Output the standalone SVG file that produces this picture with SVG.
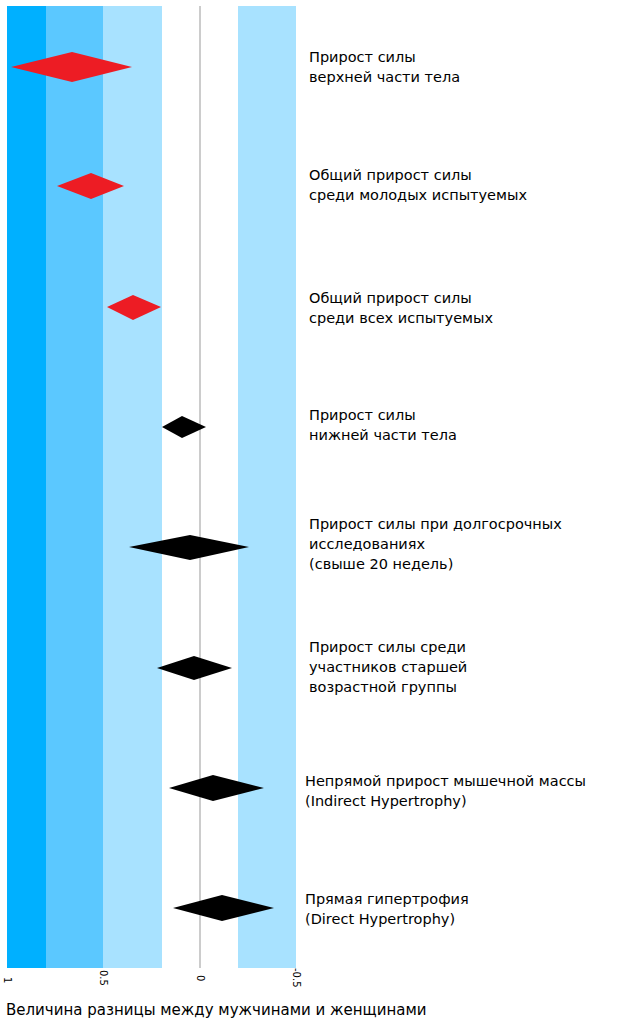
<svg xmlns="http://www.w3.org/2000/svg" width="622" height="1024" viewBox="0 0 622 1024">
<style>
text{font-family:"DejaVu Sans","Noto Sans",sans-serif;fill:#000}
.lbl{font-size:14.5px}
.ax{font-size:10px;fill:#888}
.red{fill:#ed1c24}.blk{fill:#000}
</style>
<rect width="622" height="1024" fill="#fff"/>
<g id="bands">
<rect x="7" y="6" width="39" height="962" fill="#00b0ff"/>
<rect x="46" y="6" width="57" height="962" fill="#5bc8ff"/>
<rect x="103" y="6" width="59" height="962" fill="#a8e2ff"/>
<rect x="238" y="6" width="58" height="962" fill="#a8e2ff"/>
<line x1="200" y1="6" x2="200" y2="968" stroke="#999" stroke-width="1"/>
</g>
<g id="axis" class="ax">
<text transform="translate(4,977) rotate(90)">1</text>
<text transform="translate(100,970) rotate(90)">0.5</text>
<text transform="translate(197,975) rotate(90)">0</text>
<text transform="translate(293,968) rotate(90)">-0.5</text>
</g>
<g id="n1"><polygon class="red" points="11,67 72,52 132,67 72,82"/><text class="lbl" x="309" y="62">Прирост силы</text><text class="lbl" x="309" y="82">верхней части тела</text></g>
<g id="n2"><polygon class="red" points="57,186 91,173 124,186 91,199"/><text class="lbl" x="309" y="180">Общий прирост силы</text><text class="lbl" x="309" y="200">среди молодых испытуемых</text></g>
<g id="n3"><polygon class="red" points="107,307 133,295 161,307 133,320"/><text class="lbl" x="309" y="303">Общий прирост силы</text><text class="lbl" x="309" y="323">среди всех испытуемых</text></g>
<g id="n4"><polygon class="blk" points="162,427 182,416 206,427 182,438"/><text class="lbl" x="309" y="420">Прирост силы</text><text class="lbl" x="309" y="440">нижней части тела</text></g>
<g id="n5"><polygon class="blk" points="129,547 190,535 249,547 190,560"/><text class="lbl" x="309" y="529">Прирост силы при долгосрочных</text><text class="lbl" x="309" y="549">исследованиях</text><text class="lbl" x="309" y="569">(свыше 20 недель)</text></g>
<g id="n6"><polygon class="blk" points="157,668 194,656 232,668 194,680"/><text class="lbl" x="309" y="652">Прирост силы среди</text><text class="lbl" x="309" y="672">участников старшей</text><text class="lbl" x="309" y="692">возрастной группы</text></g>
<g id="n7"><polygon class="blk" points="169,788 213,775 264,788 213,801"/><text class="lbl" x="305" y="786">Непрямой прирост мышечной массы</text><text class="lbl" x="305" y="806">(Indirect Hypertrophy)</text></g>
<g id="n8"><polygon class="blk" points="173,908 222,895 274,908 222,921"/><text class="lbl" x="305" y="904">Прямая гипертрофия</text><text class="lbl" x="305" y="924">(Direct Hypertrophy)</text></g>
<g id="connectors"></g>
<text x="6" y="1015" style="font-size:15px">Величина разницы между мужчинами и женщинами</text>
</svg>
